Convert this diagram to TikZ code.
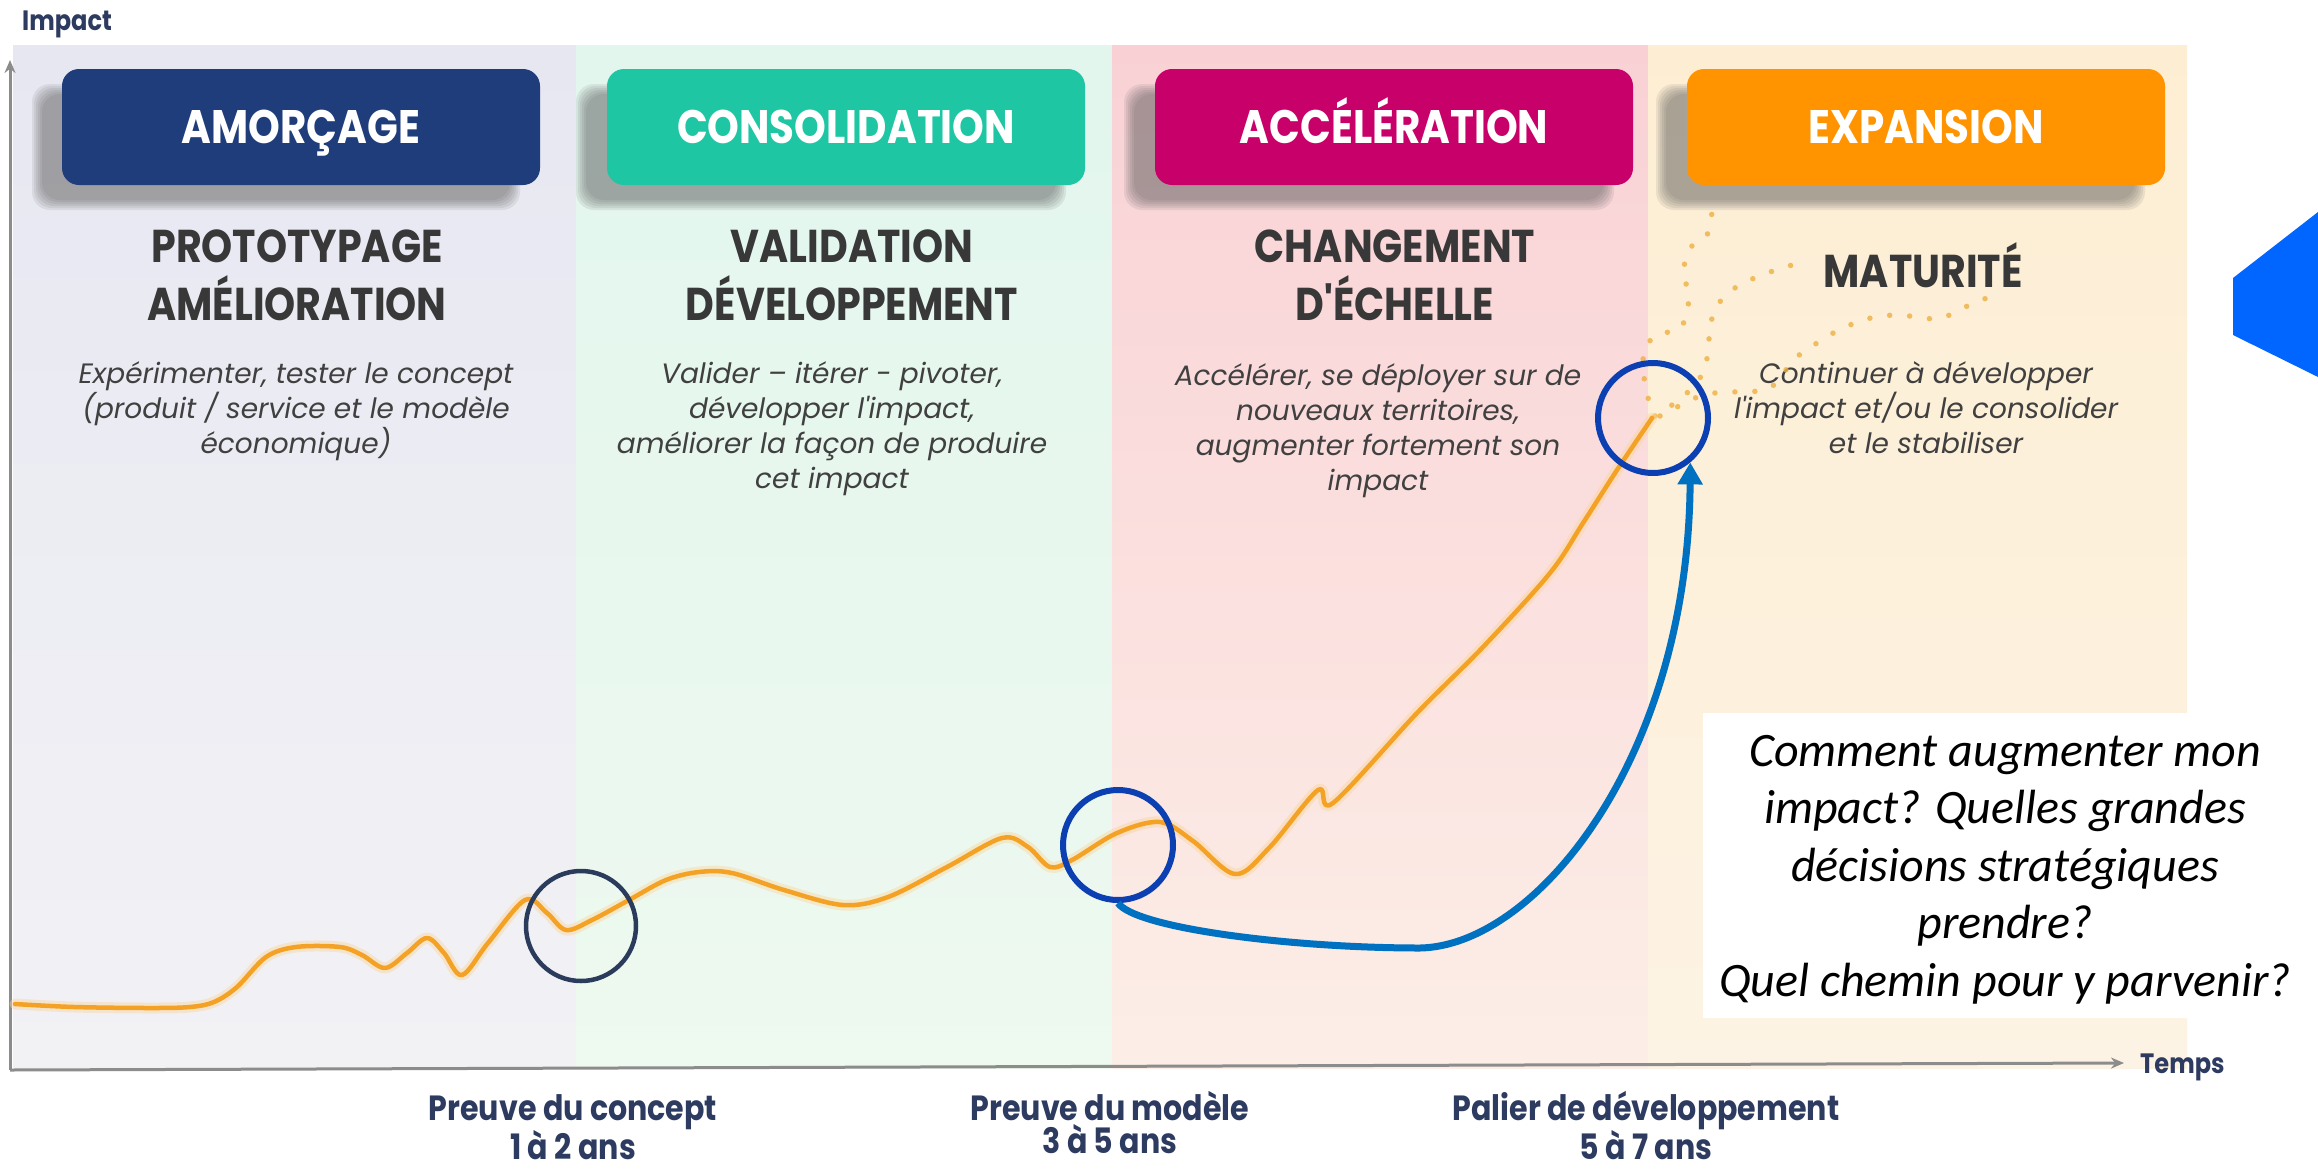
\documentclass[tikz,border=0pt]{standalone}
\usepackage{fontspec}
\usetikzlibrary{arrows.meta}
\setmainfont{Poppins}
\newfontfamily\gothic[FakeStretch=0.86]{Poppins}
\newfontfamily\gothicwide{Poppins}
\newfontfamily\calib{Carlito}

\definecolor{navyhd}{HTML}{1F3D7B}
\definecolor{tealhd}{HTML}{1EC6A4}
\definecolor{magentahd}{HTML}{C8006A}
\definecolor{orangehd}{HTML}{FF9300}
\definecolor{bandA}{HTML}{E7E7F2}
\definecolor{bandAb}{HTML}{F2F2F5}
\definecolor{bandB}{HTML}{E2F6EE}
\definecolor{bandBb}{HTML}{EEF9EF}
\definecolor{bandC}{HTML}{F9D1D5}
\definecolor{bandCb}{HTML}{FCEEE7}
\definecolor{bandD}{HTML}{FDEED3}
\definecolor{bandDb}{HTML}{FDF3E4}
\definecolor{titlegray}{HTML}{383838}
\definecolor{descgray}{HTML}{404040}
\definecolor{labelnavy}{HTML}{2E3B60}
\definecolor{curveorange}{HTML}{F4A225}
\definecolor{dotorange}{HTML}{EDB040}
\definecolor{ringnavy}{HTML}{2A3B5C}
\definecolor{ringblue}{HTML}{0B3FB2}
\definecolor{arrowblue}{HTML}{0070C0}
\definecolor{markblue}{HTML}{0066FF}
\definecolor{axisgray}{HTML}{8C8C8C}
\definecolor{shadowgray}{HTML}{5A5A5A}

\newcommand\firstline[1]{\rule{0pt}{#1pt}}

% soft grey shadow behind a phase header, offset down and to the left
\newcommand\headshadow[2]{%
  \foreach \g in {0,2,...,10}{%
    \fill[shadowgray, opacity=0.11, rounded corners=18]
      ({#1-20-\g},{94-\g}) rectangle ({#2-30+\g},{200+\g});
  }%
}

\tikzset{
  headbox/.style={rectangle, rounded corners=17, minimum width=478, minimum height=116,
    inner sep=0, text=white, text height=33, text depth=0,
    font=\gothic\bfseries\fontsize{47}{50}\selectfont},
  phasetitle/.style={anchor=north, inner sep=0, align=center, text=titlegray,
    font=\gothic\bfseries\fontsize{46}{58}\selectfont},
  phasedesc/.style={anchor=north, inner sep=0, align=center, text=descgray,
    font=\gothicwide\itshape\fontsize{28}{35}\selectfont},
  milestone/.style={anchor=north, inner sep=0, align=center, text=labelnavy,
    font=\gothic\bfseries\fontsize{35}{33}\selectfont},
  axislabel/.style={inner sep=0, text=labelnavy, text height=20, text depth=0,
    font=\gothic\bfseries\fontsize{28}{30}\selectfont},
  axisline/.style={draw=axisgray, line width=3, -{Stealth[length=13, width=11]}},
  ring/.style={circle, minimum size=110, inner sep=0, line width=6},
  growth/.style={draw=curveorange, line width=4.5, line cap=round, line join=round},
  growthglow/.style={draw=curveorange!45, line width=11, opacity=0.45, line cap=round, line join=round},
  outlook/.style={draw=dotorange, line width=5.5, line cap=round, dash pattern=on 0pt off 20pt, opacity=0.8},
  pathway/.style={draw=arrowblue, line width=7, -{Triangle[length=22, width=24]}},
  qpanel/.style={rectangle, fill=white, minimum width=615, minimum height=305, inner sep=0},
  qtext/.style={anchor=north, inner sep=0, align=center, text=black,
    font=\calib\itshape\fontsize{48}{57.5}\selectfont},
}

\begin{document}
\begin{tikzpicture}[x=1pt, y=-1pt]
\useasboundingbox (0,0) rectangle (2318,1170);
\fill[white] (0,0) rectangle (2318,1170);

% phase bands
\shade[top color=bandA, bottom color=bandAb] (13,45) rectangle (576,1068);
\shade[top color=bandB, bottom color=bandBb] (576,45) rectangle (1112,1068);
\shade[top color=bandC, bottom color=bandCb] (1112,45) rectangle (1648,1068);
\shade[top color=bandD, bottom color=bandDb] (1648,45) rectangle (2187,1068);

% blue marker on the right edge
\fill[markblue] (2318,212) -- (2233,278) -- (2233,335) -- (2318,377) -- cycle;

% axes
\coordinate (origin) at (10,1070);
\coordinate (ytip) at (10,60);
\coordinate (xtip) at (2124,1063);
\draw[axisline] (origin) -- (ytip);
\draw[axisline] (origin) -- (xtip);
\node[axislabel, anchor=west] (impact) at (22,20) {Impact};
\node[axislabel, anchor=west] (temps) at (2140,1063) {Temps};

% phase headers
\headshadow{62}{540}
\headshadow{606}{1086}
\headshadow{1154}{1634}
\headshadow{1686}{2165}
\node[headbox, fill=navyhd] (h1) at (301,127) {AMORÇAGE};
\node[headbox, fill=tealhd] (h2) at (846,127) {CONSOLIDATION};
\node[headbox, fill=magentahd] (h3) at (1394,127) {ACCÉLÉRATION};
\node[headbox, fill=orangehd] (h4) at (1926,127) {EXPANSION};

% phase titles
\node[phasetitle] (t1) at (297,212) {\firstline{50}PROTOTYPAGE\\AMÉLIORATION};
\node[phasetitle] (t2) at (852,212) {\firstline{50}VALIDATION\\DÉVELOPPEMENT};
\node[phasetitle] (t3) at (1395,212) {\firstline{50}CHANGEMENT\\D'ÉCHELLE};
\node[phasetitle] (t4) at (1923,237) {\firstline{50}MATURITÉ};

% phase descriptions
\node[phasedesc] (d1) at (296,351) {\firstline{32}Expérimenter, tester le concept\\(produit / service et le modèle\\économique)};
\node[phasedesc] (d2) at (832,351) {\firstline{32}Valider – itérer - pivoter,\\développer l'impact,\\améliorer la façon de produire\\cet impact};
\node[phasedesc] (d3) at (1378,353) {\firstline{32}Accélérer, se déployer sur de\\nouveaux territoires,\\augmenter fortement son\\impact};
\node[phasedesc] (d4) at (1926,351) {\firstline{32}Continuer à développer\\l'impact et/ou le consolider\\et le stabiliser};

% possible trajectories beyond the scale-up
\draw[outlook] plot[smooth, tension=0.5] coordinates {(1652,418) (1647,392) (1643,370) (1645,348) (1658,334) (1678,330) (1688,312) (1687,290) (1684,268) (1690,248) (1707,235) (1712,212)};
\draw[outlook] plot[smooth, tension=0.5] coordinates {(1655,416) (1672,405) (1688,392) (1703,373) (1708,352) (1710,328) (1716,307) (1732,290) (1750,280) (1770,272) (1792,265)};
\draw[outlook] plot[smooth, tension=0.5] coordinates {(1660,416) (1700,396) (1728,392) (1748,392) (1770,388) (1785,371) (1798,356) (1817,343) (1835,332) (1855,323) (1875,317) (1897,315) (1918,317) (1938,319) (1958,311) (1977,301) (1997,296)};

% impact curve
\def\impactcurve{(15,1004) (74,1007) (150,1008) (190,1007) (214,1002) (237,987) (266,957) (296,947) (340,947) (362,955) (385,968) (407,953) (427,938) (444,953) (462,975) (488,943) (525,900) (547,913) (566,930) (592,920) (629,900) (666,880) (699,872) (732,873) (784,890) (843,905) (888,897) (947,867) (1002,838) (1028,847) (1050,867) (1072,860) (1117,833) (1160,822) (1193,841) (1235,874) (1269,848) (1318,790) (1333,803) (1417,713) (1483,647) (1550,573) (1583,523) (1617,470) (1652,418)}
\draw[growthglow] plot[smooth, tension=0.55] coordinates {\impactcurve};
\draw[growth] plot[smooth, tension=0.55] coordinates {\impactcurve};

% highlighted stages
\node[ring, draw=ringnavy, line width=4.5] (c1) at (581,926) {};
\node[ring, draw=ringblue] (c2) at (1118,845) {};
\node[ring, draw=ringblue] (c3) at (1653,418) {};

% jump from the model proof to the scale-up
\draw[pathway] (c2.south) .. controls (1135,928) and (1290,948) .. (1420,948)
  .. controls (1535,946) and (1688,760) .. (c3.-50);

% milestones
\node[milestone] (m1) at (573,1087) {\firstline{33}Preuve du concept\\1 à 2 ans};
\node[milestone] (m2) at (1110,1087) {\firstline{33}Preuve du modèle\\3 à 5 ans};
\node[milestone] (m3) at (1646,1087) {\firstline{33}Palier de développement\\5 à 7 ans};

% question panel
\node[qpanel] (qpanel) at (2010.5,865) {};
\node[qtext] (question) at (2005,720) {\firstline{46}Comment augmenter mon\\impact? Quelles grandes\\décisions stratégiques\\prendre?\\Quel chemin pour y parvenir?};
\end{tikzpicture}
\end{document}
